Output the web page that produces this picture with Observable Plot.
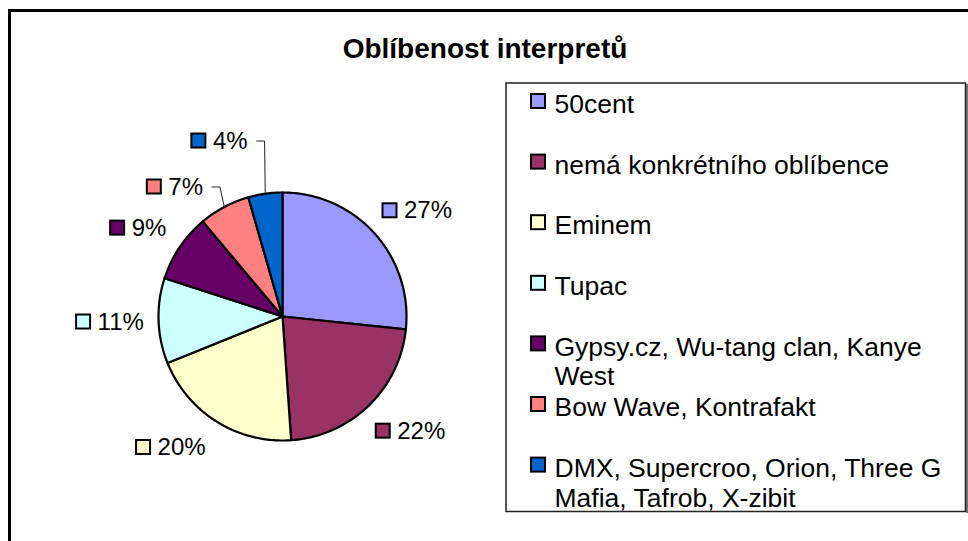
<!DOCTYPE html>
<html><head><meta charset="utf-8">
<script src="https://cdn.jsdelivr.net/npm/d3@7"></script>
<script src="https://cdn.jsdelivr.net/npm/@observablehq/plot@0.6"></script>
<style>html,body{margin:0;padding:0;background:#fff;} svg{display:block}</style>
</head><body><div id="chart"></div>
<script>
// ---- data ----
const title = "Oblíbenost interpretů";
const categories = [
  "50cent",
  "nemá konkrétního oblíbence",
  "Eminem",
  "Tupac",
  "Gypsy.cz, Wu-tang clan, Kanye West",
  "Bow Wave, Kontrafakt",
  "DMX, Supercroo, Orion, Three G Mafia, Tafrob, X-zibit"
];
const counts = [12, 10, 9, 5, 4, 3, 2];
const colors = ["#9999FF", "#993366", "#FFFFCC", "#CCFFFF", "#660066", "#FF8080", "#0066CC"];

// ---- layout ----
const W = 968, H = 541;
const cx = 282, cy = 316, R = 124;
const labelDist = 146;
const FONT = '"Liberation Sans", Arial, sans-serif';
const pctSize = 24, legendSize = 26.5, titleSize = 28;
const labelNudge = {1: [2, 1], 2: [-16, -3], 3: [9, 0], 5: [-26, 10], 6: [-39, -19]};
const leaderIdx = new Set([5, 6]);
const legendTop = 101, legendStep = 60.6, legendKeyX = 531, legendTextX = 554;

const total = d3.sum(counts);
const arcs = d3.pie().sort(null).value(d => d)(counts);
const pt = (a, r) => [cx + r * Math.sin(a), cy - r * Math.cos(a)];

// wedges
const wedgePts = [];
arcs.forEach((a, i) => {
  const n = Math.max(4, Math.ceil((a.endAngle - a.startAngle) / (Math.PI / 180)));
  wedgePts.push({cat: categories[i], x: cx, y: cy});
  for (let k = 0; k <= n; k++) {
    const [x, y] = pt(a.startAngle + (a.endAngle - a.startAngle) * k / n, R);
    wedgePts.push({cat: categories[i], x, y});
  }
  wedgePts.push({cat: categories[i], x: cx, y: cy});
});

// percentage labels
const charW = c => c === "%" ? 0.889 : 0.556;
const labels = arcs.map((a, i) => {
  const text = Math.round(counts[i] / total * 100) + "%";
  const tw = [...text].reduce((s, c) => s + charW(c), 0) * pctSize;
  const gw = 16 + 6 + tw, gh = 24;
  const mid = (a.startAngle + a.endAngle) / 2;
  const [ax, ay] = pt(mid, labelDist);
  const nd = labelNudge[i] || [0, 0];
  const gx = ax + gw / 2 * Math.sin(mid) + nd[0];
  const gy = ay - gh / 2 * Math.cos(mid) + nd[1];
  const left = gx - gw / 2;
  return {cat: categories[i], text, mid, gy, keyX1: left + 1, keyX2: left + 15, textX: left + 22, textR: left + gw, leader: leaderIdx.has(i)};
});
const leaders = [];
labels.filter(d => d.leader).forEach(d => {
  const [ex, ey] = pt(d.mid, R);
  leaders.push({cat: d.cat, x: d.textR + 9, y: d.gy});
  leaders.push({cat: d.cat, x: d.textR + 17, y: d.gy});
  leaders.push({cat: d.cat, x: ex, y: ey});
});

// legend
const legend = categories.map((c, i) => ({cat: c, y: legendTop + legendStep * i}));

const chart = Plot.plot({
  width: W, height: H,
  margin: 0,
  x: {domain: [0, W], range: [0, W], axis: null},
  y: {domain: [0, H], range: [0, H], axis: null},
  color: {domain: categories, range: colors},
  style: {fontFamily: FONT, background: "white", color: "black"},
  marks: [
    // outer chart border (left & top visible)
    Plot.ruleX([9], {y1: 9, y2: H, stroke: "black", strokeWidth: 3}),
    Plot.ruleY([10], {x1: 8, x2: W, stroke: "black", strokeWidth: 3}),
    // title
    Plot.text([title], {x: () => 484.5, y: () => 49, text: d => d, fontSize: titleSize, fontWeight: "bold", fill: "black"}),
    // pie
    Plot.line(wedgePts, {x: "x", y: "y", z: "cat", fill: "cat", stroke: "black", strokeWidth: 2.2, strokeLinejoin: "round"}),
    // leader lines
    Plot.line(leaders, {x: "x", y: "y", z: "cat", stroke: "#222", strokeWidth: 1}),
    // percentage labels
    Plot.rect(labels, {x1: "keyX1", x2: "keyX2", y1: d => d.gy - 7, y2: d => d.gy + 7, fill: "cat", stroke: "black", strokeWidth: 2}),
    Plot.text(labels, {x: "textX", y: "gy", text: "text", textAnchor: "start", fontSize: pctSize, fill: "black"}),
    // legend box
    Plot.ruleX([966.5], {y1: 84, y2: 513, stroke: "#777", strokeWidth: 2}),
    Plot.rect([0], {x1: () => 506, x2: () => 965.5, y1: () => 83, y2: () => 511.5, fill: "none", stroke: "#222", strokeWidth: 1.5}),
    Plot.rect(legend, {x1: () => legendKeyX, x2: () => legendKeyX + 14, y1: d => d.y - 7, y2: d => d.y + 7, fill: "cat", stroke: "black", strokeWidth: 2}),
    Plot.text(legend, {x: () => legendTextX, y: d => d.y - 0.352 * legendSize, text: "cat", textAnchor: "start", lineAnchor: "top", lineWidth: 16.2, lineHeight: 1.12, fontSize: legendSize, fill: "black"})
  ]
});
document.getElementById("chart").appendChild(chart);
</script>
</body></html>
